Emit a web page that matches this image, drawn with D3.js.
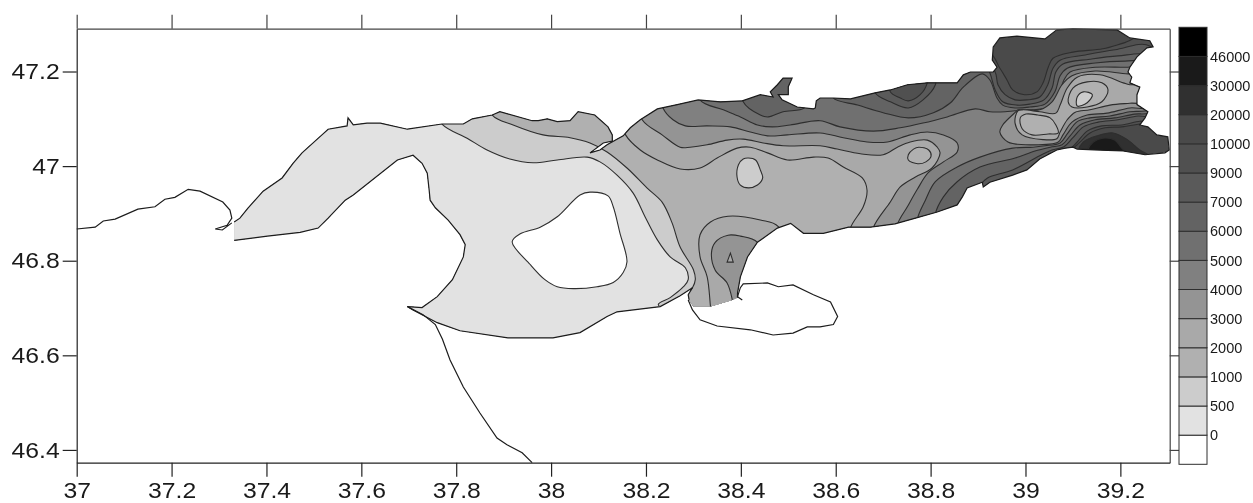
<!DOCTYPE html>
<html>
<head>
<meta charset="utf-8">
<script src="https://cdn.jsdelivr.net/npm/d3@7"></script>
<style>
html, body { margin: 0; padding: 0; background: #fff; }
svg { display: block; filter: blur(0.35px); }
text { font-family: "Liberation Sans", Arial, sans-serif; fill: #1a1a1a; }
</style>
</head>
<body>
<svg id="chart" width="1253" height="503"></svg>
<script>
// axis ticks
var lonTicks = [37, 37.2, 37.4, 37.6, 37.8, 38, 38.2, 38.4, 38.6, 38.8, 39, 39.2];
var latTicks = [46.4, 46.6, 46.8, 47, 47.2];

// colour bar, low to high
var legendLabels = ["0", "500", "1000", "2000", "3000", "4000", "5000", "6000", "7000", "9000", "10000", "20000", "30000", "46000"];
var bandColors = ["#ffffff", "#e2e2e2", "#cccccc", "#b0b0b0", "#a9a9a9", "#949494", "#808080", "#707070", "#636363", "#5a5a5a", "#505050", "#4a4a4a", "#303030", "#1a1a1a", "#000000"];

// coast, [lon, lat]
var westCoast = [[37,46.867],[37.039,46.871],[37.056,46.884],[37.081,46.888],[37.129,46.909],[37.165,46.914],[37.186,46.93],[37.207,46.934],[37.235,46.951],[37.26,46.947],[37.308,46.924],[37.323,46.907],[37.327,46.89],[37.317,46.875],[37.292,46.867],[37.307,46.865],[37.327,46.88]];
var southwestCoast = [[37.697,46.703],[37.73,46.686],[37.756,46.665],[37.771,46.634],[37.787,46.59],[37.815,46.533],[37.85,46.478],[37.886,46.425],[37.907,46.411],[37.939,46.394],[37.96,46.373]];
var gulfCoast = [[38.289,46.717],[38.298,46.696],[38.314,46.675],[38.35,46.662],[38.42,46.654],[38.468,46.643],[38.51,46.647],[38.54,46.66],[38.567,46.66],[38.595,46.665],[38.604,46.682],[38.589,46.713],[38.553,46.728],[38.51,46.749],[38.479,46.745],[38.456,46.753],[38.405,46.751],[38.399,46.743],[38.393,46.724],[38.403,46.717]];
var northCoast = [[37.332,46.882],[37.344,46.89],[37.361,46.911],[37.393,46.947],[37.433,46.975],[37.456,47.006],[37.475,47.028],[37.517,47.066],[37.53,47.078],[37.57,47.085],[37.572,47.102],[37.583,47.087],[37.612,47.091],[37.64,47.091],[37.697,47.078],[37.77,47.089],[37.815,47.089],[37.834,47.1],[37.876,47.108],[37.892,47.115],[37.96,47.096],[37.973,47.096],[37.992,47.1],[38.013,47.094],[38.04,47.096],[38.057,47.115],[38.092,47.108],[38.12,47.083],[38.129,47.066],[38.129,47.053],[38.11,47.049],[38.082,47.028],[38.103,47.034],[38.118,47.045],[38.152,47.064],[38.167,47.081],[38.188,47.098],[38.224,47.121],[38.266,47.13],[38.31,47.14],[38.357,47.136],[38.403,47.138],[38.441,47.151],[38.468,47.146],[38.462,47.157],[38.477,47.172],[38.489,47.186],[38.508,47.186],[38.5,47.168],[38.5,47.151],[38.479,47.151],[38.487,47.14],[38.519,47.125],[38.553,47.121],[38.557,47.123],[38.559,47.138],[38.567,47.144],[38.595,47.144],[38.631,47.142],[38.683,47.155],[38.715,47.161],[38.751,47.172],[38.793,47.176],[38.856,47.176],[38.869,47.193],[38.884,47.199],[38.932,47.199],[38.94,47.209],[38.93,47.224],[38.932,47.252],[38.946,47.271],[38.982,47.275],[39.041,47.269],[39.066,47.288],[39.1,47.29],[39.193,47.288],[39.22,47.271],[39.262,47.265],[39.269,47.252],[39.256,47.25],[39.235,47.231],[39.22,47.209],[39.216,47.199],[39.224,47.188],[39.22,47.176],[39.241,47.167],[39.235,47.151],[39.235,47.13],[39.258,47.115],[39.252,47.102],[39.241,47.087],[39.258,47.083],[39.277,47.066],[39.3,47.062],[39.303,47.034],[39.294,47.028],[39.252,47.024],[39.206,47.032],[39.157,47.034],[39.109,47.036],[39.1,47.04],[39.084,47.038],[39.066,47.034],[39.03,47.015],[39.003,46.992],[38.973,46.981],[38.925,46.966],[38.911,46.956],[38.909,46.966],[38.877,46.954],[38.867,46.935],[38.856,46.918],[38.814,46.903],[38.768,46.89],[38.725,46.878],[38.673,46.871],[38.627,46.871],[38.574,46.858],[38.532,46.858],[38.505,46.879],[38.477,46.869],[38.435,46.839],[38.414,46.808],[38.399,46.766],[38.393,46.732],[38.393,46.722]];
var gulfEdge = [[38.382,46.717],[38.336,46.703],[38.3,46.703]];
var southCoast = [[38.291,46.717],[38.289,46.728],[38.298,46.743],[38.272,46.726],[38.23,46.703],[38.139,46.692],[38.118,46.682],[38.061,46.648],[38.004,46.637],[37.909,46.637],[37.808,46.652],[37.76,46.669],[37.709,46.696],[37.697,46.703],[37.728,46.701],[37.76,46.724],[37.792,46.76],[37.815,46.808],[37.819,46.834],[37.808,46.855],[37.783,46.886],[37.756,46.912],[37.745,46.928],[37.743,46.949],[37.739,46.985],[37.728,47.006],[37.709,47.023],[37.676,47.013],[37.583,46.939],[37.566,46.928],[37.53,46.89],[37.509,46.869],[37.471,46.86],[37.402,46.852],[37.332,46.843]];

// points beyond the coast that close the contour regions (clipped off)
var beyondWest = [[38.525,46.622],[37.26,46.622],[37.26,47.246]];
var beyondEast = [[39.315,47.161]];

// contour lines, value below the level lies inside
var below10000N = [[38.915,47.246],[38.946,47.207],[38.961,47.182],[38.973,47.161],[38.998,47.151],[39.024,47.157],[39.037,47.176],[39.048,47.209],[39.058,47.228],[39.1,47.241],[39.163,47.248],[39.206,47.26],[39.262,47.277]];
var below10000S = [[39.262,47.091],[39.241,47.089],[39.203,47.083],[39.168,47.081],[39.136,47.07],[39.113,47.049],[39.094,47.034],[39.064,47.03],[39.052,46.981]];
var below9000N = [[38.904,47.235],[38.936,47.199],[38.942,47.172],[38.957,47.151],[38.978,47.14],[39.003,47.14],[39.03,47.146],[39.047,47.172],[39.058,47.207],[39.073,47.224],[39.126,47.235],[39.189,47.246],[39.262,47.254]];
var below9000S = [[39.262,47.095],[39.241,47.095],[39.203,47.087],[39.161,47.085],[39.13,47.074],[39.109,47.051],[39.09,47.034],[39.073,47.032],[39.047,47.024],[39.03,46.981]];
var below7000N = [[38.909,47.224],[38.925,47.197],[38.936,47.161],[38.952,47.136],[38.982,47.129],[39.009,47.131],[39.039,47.14],[39.056,47.165],[39.064,47.199],[39.079,47.216],[39.136,47.226],[39.195,47.233],[39.262,47.233]];
var below7000S = [[39.262,47.106],[39.237,47.106],[39.195,47.098],[39.153,47.093],[39.122,47.083],[39.1,47.06],[39.081,47.041],[39.056,47.034],[39.03,47.022],[38.973,46.992],[38.92,46.975],[38.909,46.964],[38.909,46.928]];
var below6000N = [[38.405,47.182],[38.405,47.136],[38.441,47.108],[38.458,47.104],[38.489,47.115],[38.534,47.123],[38.542,47.151],[38.595,47.165],[38.595,47.144],[38.646,47.129],[38.7,47.113],[38.753,47.102],[38.806,47.113],[38.842,47.134],[38.869,47.167],[38.909,47.195],[38.925,47.182],[38.94,47.144],[38.952,47.129],[38.978,47.123],[39.009,47.125],[39.041,47.131],[39.062,47.157],[39.073,47.191],[39.088,47.207],[39.147,47.218],[39.21,47.222],[39.262,47.22]];
var below6000S = [[39.262,47.113],[39.23,47.11],[39.188,47.102],[39.147,47.098],[39.115,47.087],[39.094,47.064],[39.077,47.045],[39.052,47.04],[39.02,47.032],[38.978,47.017],[38.904,46.998],[38.856,46.967],[38.827,46.935],[38.81,46.899],[38.81,46.855]];
var below5000N = [[38.314,47.203],[38.314,47.14],[38.363,47.119],[38.399,47.104],[38.435,47.087],[38.466,47.083],[38.504,47.087],[38.567,47.096],[38.609,47.083],[38.679,47.074],[38.736,47.081],[38.784,47.091],[38.835,47.104],[38.894,47.121],[38.925,47.115],[38.957,47.115],[38.978,47.117],[39.014,47.119],[39.048,47.125],[39.069,47.148],[39.081,47.182],[39.094,47.199],[39.147,47.209],[39.216,47.209],[39.262,47.212]];
var below5000S = [[39.262,47.119],[39.22,47.115],[39.178,47.106],[39.136,47.102],[39.109,47.094],[39.088,47.068],[39.073,47.049],[39.041,47.043],[39.016,47.04],[38.973,47.038],[38.904,47.019],[38.856,46.998],[38.81,46.967],[38.789,46.928],[38.772,46.888],[38.772,46.845]];
var below4000 = [[38.23,47.182],[38.236,47.123],[38.257,47.098],[38.283,47.085],[38.329,47.085],[38.378,47.083],[38.42,47.072],[38.456,47.064],[38.498,47.066],[38.567,47.07],[38.616,47.06],[38.666,47.051],[38.709,47.051],[38.757,47.066],[38.793,47.072],[38.827,47.066],[38.856,47.049],[38.856,47.03],[38.827,47.009],[38.795,46.986],[38.772,46.951],[38.751,46.914],[38.73,46.876],[38.73,46.833]];
var below4000East = [[38.98,47.115],[38.952,47.087],[38.946,47.072],[38.963,47.051],[39.016,47.045],[39.069,47.051],[39.079,47.066],[39.098,47.093],[39.13,47.108],[39.172,47.112],[39.22,47.123],[39.262,47.125],[39.262,47.195],[39.216,47.195],[39.147,47.201],[39.098,47.191],[39.077,47.172],[39.056,47.136],[39.03,47.119],[38.984,47.119]];
var below3000 = [[38.177,47.161],[38.192,47.098],[38.234,47.066],[38.272,47.04],[38.293,47.04],[38.329,47.045],[38.371,47.055],[38.405,47.057],[38.447,47.049],[38.489,47.043],[38.567,47.043],[38.603,47.036],[38.652,47.026],[38.7,47.024],[38.73,47.04],[38.757,47.051],[38.793,47.055],[38.814,47.04],[38.82,47.028],[38.803,46.996],[38.768,46.977],[38.736,46.956],[38.715,46.924],[38.679,46.869],[38.679,46.833]];
var below3000East = [[38.984,47.117],[38.978,47.091],[38.993,47.066],[39.037,47.056],[39.066,47.058],[39.073,47.072],[39.088,47.098],[39.105,47.114],[39.136,47.119],[39.178,47.129],[39.22,47.133],[39.262,47.136],[39.262,47.172],[39.22,47.172],[39.206,47.176],[39.157,47.193],[39.109,47.188],[39.088,47.165],[39.073,47.129],[39.064,47.112],[39.03,47.115],[38.995,47.119]];
var below2000 = [[38.135,47.14],[38.157,47.066],[38.188,47.034],[38.224,47.013],[38.272,46.994],[38.314,46.996],[38.35,47.017],[38.392,47.038],[38.42,47.04],[38.456,47.028],[38.498,47.013],[38.553,47.019],[38.584,47.017],[38.616,46.998],[38.656,46.975],[38.666,46.949],[38.658,46.914],[38.631,46.869],[38.631,46.833]];
var below2000Spit = [[38.775,47.04],[38.796,47.034],[38.801,47.021],[38.79,47.009],[38.773,47.005],[38.753,47.013],[38.753,47.024],[38.764,47.036]];
var below2000Core = [[38.989,47.102],[39.001,47.11],[39.026,47.108],[39.052,47.102],[39.064,47.087],[39.069,47.07],[39.048,47.068],[39.014,47.066],[38.993,47.079]];
var below2000Ring = [[39.09,47.136],[39.1,47.165],[39.13,47.178],[39.161,47.176],[39.174,47.161],[39.161,47.136],[39.13,47.125],[39.098,47.125]];
var below1000 = [[37.861,47.161],[37.876,47.108],[37.92,47.087],[37.983,47.066],[38.04,47.06],[38.082,47.049],[38.118,47.03],[38.16,46.996],[38.202,46.954],[38.234,46.924],[38.255,46.88],[38.272,46.829],[38.3,46.781],[38.304,46.76],[38.298,46.743],[38.276,46.717],[38.272,46.654]];
var below1000Mid = [[38.416,47.017],[38.431,47.013],[38.441,46.992],[38.446,46.975],[38.435,46.96],[38.416,46.954],[38.399,46.96],[38.392,46.977],[38.395,47.003],[38.405,47.015]];
var below1000East = [[39.109,47.146],[39.122,47.157],[39.141,47.151],[39.13,47.134],[39.109,47.127]];
var below500 = [[37.745,47.14],[37.77,47.089],[37.823,47.059],[37.865,47.034],[37.913,47.015],[37.962,47.007],[38.013,47.013],[38.076,47.019],[38.103,47.009],[38.139,46.981],[38.173,46.943],[38.198,46.893],[38.224,46.844],[38.251,46.808],[38.283,46.785],[38.289,46.76],[38.279,46.745],[38.251,46.722],[38.226,46.707]];
var below0 = [[37.918,46.84],[37.935,46.857],[37.977,46.871],[38.013,46.893],[38.061,46.939],[38.082,46.945],[38.12,46.937],[38.131,46.914],[38.145,46.859],[38.16,46.798],[38.152,46.775],[38.131,46.754],[38.097,46.745],[38.047,46.741],[38.013,46.745],[37.987,46.76],[37.956,46.792]];

// closed highs, value above the level lies inside
var above7000Arm = [[38.683,47.193],[38.683,47.155],[38.715,47.136],[38.753,47.123],[38.784,47.14],[38.81,47.172],[38.81,47.203]];
var above9000Arm = [[38.715,47.193],[38.715,47.157],[38.736,47.144],[38.753,47.138],[38.778,47.151],[38.793,47.176],[38.793,47.203]];
var above20000 = [[39.111,47.032],[39.122,47.051],[39.151,47.064],[39.185,47.07],[39.216,47.055],[39.241,47.034],[39.267,47.017],[39.267,46.981],[39.111,46.981]];
var above30000 = [[39.13,47.032],[39.143,47.051],[39.163,47.059],[39.188,47.055],[39.203,47.038],[39.22,47.021],[39.22,46.981],[39.13,46.981]];
var above2000Gulf = [[38.479,46.872],[38.441,46.886],[38.373,46.894],[38.336,46.882],[38.314,46.855],[38.314,46.808],[38.329,46.766],[38.336,46.703],[38.34,46.665],[38.525,46.717]];
var above3000Gulf = [[38.435,46.839],[38.399,46.852],[38.373,46.854],[38.346,46.839],[38.338,46.816],[38.346,46.78],[38.371,46.753],[38.382,46.717],[38.388,46.665],[38.472,46.737]];
var below3000Gulf = [[38.378,46.816],[38.384,46.797],[38.371,46.797]];

var basin = d3.merge([northCoast, gulfEdge, southCoast]);

// painted high to low, then the highs on top. band is the index in bandColors
var regions = [
	{pts: basin, band: 11, curve: d3.curveLinearClosed},
	{pts: d3.merge([below10000N, beyondEast, below10000S, beyondWest]), band: 10},
	{pts: d3.merge([below9000N, beyondEast, below9000S, beyondWest]), band: 9},
	{pts: d3.merge([below7000N, beyondEast, below7000S, beyondWest]), band: 8},
	{pts: d3.merge([below6000N, beyondEast, below6000S, beyondWest]), band: 7},
	{pts: d3.merge([below5000N, beyondEast, below5000S, beyondWest]), band: 6},
	{pts: d3.merge([below4000, beyondWest]), band: 5},
	{pts: below4000East, band: 5},
	{pts: d3.merge([below3000, beyondWest]), band: 4},
	{pts: below3000East, band: 4},
	{pts: d3.merge([below2000, beyondWest]), band: 3},
	{pts: below2000Spit, band: 3},
	{pts: below2000Core, band: 3},
	{pts: below2000Ring, band: 3},
	{pts: d3.merge([below1000, beyondWest]), band: 2},
	{pts: below1000Mid, band: 2},
	{pts: below1000East, band: 2},
	{pts: d3.merge([below500, beyondWest]), band: 1},
	{pts: below0, band: 0},
	{pts: above7000Arm, band: 9},
	{pts: above9000Arm, band: 10},
	{pts: above20000, band: 12},
	{pts: above30000, band: 13},
	{pts: above2000Gulf, band: 4},
	{pts: above3000Gulf, band: 5},
	{pts: below3000Gulf, band: 4, curve: d3.curveLinearClosed}
];

var svg = d3.select("#chart");

var x = d3.scaleLinear().domain([37, 39.304]).range([76.7, 1169.7]);
var y = d3.scaleLinear().domain([46.373, 47.2905]).range([462.7, 28.7]);

var smooth = d3.curveCatmullRomClosed.alpha(0.5);
var path = d3.line().x(function(d){ return x(d[0]); }).y(function(d){ return y(d[1]); });

svg.append("clipPath").attr("id", "basin-clip")
	.append("path")
	.attr("d", path.curve(d3.curveLinearClosed)(basin));

var map = svg.append("g").attr("clip-path", "url(#basin-clip)");

map.selectAll("path")
	.data(regions)
	.enter()
	.append("path")
	.attr("d", function(d){ return path.curve(d.curve || smooth)(d.pts); })
	.attr("fill", function(d){ return bandColors[d.band]; })
	.attr("stroke", "#2e2e2e")
	.attr("stroke-width", 1.1);

// basin was only the base fill, its edge has no stroke
map.select("path").attr("stroke", "none");

path.curve(d3.curveLinear);
svg.selectAll(".coast")
	.data([westCoast, southwestCoast, gulfCoast, northCoast, southCoast])
	.enter()
	.append("path")
	.attr("class", "coast")
	.attr("d", path)
	.attr("fill", "none")
	.attr("stroke", "#1c1c1c")
	.attr("stroke-width", 1.2);

// axes
function styleAxis(g, color, width){
	g.selectAll("path, line").attr("stroke", color).attr("stroke-width", width);
	// the reference glyphs are a bit wider than Arial
	g.selectAll("text")
		.attr("font-size", "22.5px")
		.attr("fill", "#1a1a1a")
		.each(function(){
			var w = this.getComputedTextLength();
			if(w > 0){
				d3.select(this).attr("textLength", w * 1.1).attr("lengthAdjust", "spacingAndGlyphs");
			}
		});
}

function plain(d){ return String(d); }

svg.append("g")
	.attr("transform", "translate(0,28.7)")
	.call(d3.axisTop(x).tickValues(lonTicks).tickSize(14).tickSizeOuter(0).tickFormat(""))
	.call(styleAxis, "#444", 1.2);

svg.append("g")
	.attr("transform", "translate(1169.7,0)")
	.call(d3.axisRight(y).tickValues(latTicks).tickSize(10).tickSizeOuter(0).tickFormat(""))
	.call(styleAxis, "#444", 1.2);

svg.append("g")
	.attr("transform", "translate(0,462.7)")
	.call(d3.axisBottom(x).tickValues(lonTicks).tickSize(14).tickSizeOuter(0).tickPadding(5.3).tickFormat(plain))
	.call(styleAxis, "#222", 1.2);

svg.append("g")
	.attr("transform", "translate(76.7,0)")
	.call(d3.axisLeft(y).tickValues(latTicks).tickSize(14).tickSizeOuter(0).tickPadding(3).tickFormat(plain))
	.call(styleAxis, "#222", 1.2);

// colour bar
var barY = d3.scaleBand().domain(d3.range(bandColors.length)).range([464.3, 27.3]);
var barX = d3.scaleLinear().domain([0, 1]).range([1179, 1207]);

var bar = svg.append("g");
bar.selectAll("rect")
	.data(bandColors)
	.enter()
	.append("rect")
	.attr("x", barX(0))
	.attr("width", barX(1) - barX(0))
	.attr("y", function(d, i){ return barY(i); })
	.attr("height", barY.bandwidth())
	.attr("fill", function(d){ return d; })
	.attr("stroke", "#2e2e2e")
	.attr("stroke-width", 1);

bar.selectAll("text")
	.data(legendLabels)
	.enter()
	.append("text")
	.attr("x", barX(1) + 3)
	.attr("y", function(d, i){ return barY(i); })
	.attr("dy", "0.36em")
	.attr("font-size", "14.5px")
	.text(function(d){ return d; });
</script>
</body>
</html>
